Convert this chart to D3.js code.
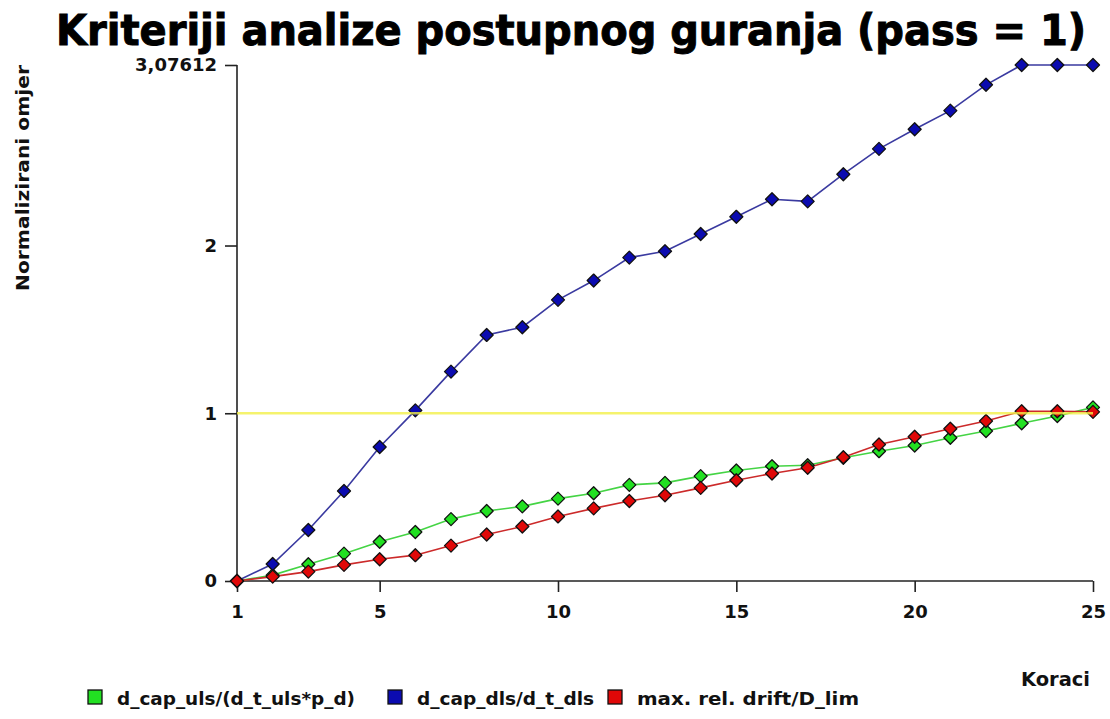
<!DOCTYPE html>
<html>
<head>
<meta charset="utf-8">
<script src="https://cdn.jsdelivr.net/npm/d3@7"></script>
<style>
  html, body { margin: 0; padding: 0; background: #fff; }
  svg { display: block; }
  text { font-family: "DejaVu Sans", Verdana, sans-serif; font-weight: bold; fill: #111; }
  .cond { font-family: "DejaVu Sans Condensed", "DejaVu Sans", sans-serif; font-stretch: condensed; }
</style>
</head>
<body>
<svg id="chart" width="1110" height="719"></svg>
<script>
// Pushover step numbers
const steps = d3.range(1, 26);

// Normalised ratio per step for each criterion
const capUls = [0, 0.035, 0.10, 0.163, 0.234, 0.292, 0.369, 0.417, 0.445, 0.491,
                0.523, 0.573, 0.585, 0.625, 0.659, 0.684, 0.69, 0.735, 0.774, 0.808,
                0.854, 0.894, 0.940, 0.984, 1.035];
const capDls = [0, 0.101, 0.304, 0.537, 0.799, 1.017, 1.248, 1.467, 1.513, 1.676,
                1.791, 1.928, 1.966, 2.069, 2.171, 2.276, 2.263, 2.425, 2.576, 2.693,
                2.804, 2.958, 3.07612, 3.07612, 3.07612];
const drift  = [0, 0.026, 0.056, 0.096, 0.13, 0.154, 0.211, 0.277, 0.325, 0.385,
                0.433, 0.477, 0.511, 0.555, 0.601, 0.641, 0.675, 0.738, 0.814, 0.860,
                0.908, 0.954, 1.012, 1.012, 1.008];

const seriesNames = ["d_cap_uls/(d_t_uls*p_d)", "d_cap_dls/d_t_dls", "max. rel. drift/D_lim"];
const xTicks = [1, 5, 10, 15, 20, 25];
const yTicks = [0, 1, 2, 3.07612];
const yMax = 3.07612;
const limit = 1;

const series = [
  { name: seriesNames[0], values: capUls, line: "#44d444", fill: "#22e022" },
  { name: seriesNames[1], values: capDls, line: "#3a3aa0", fill: "#0b0bb0" },
  { name: seriesNames[2], values: drift,  line: "#cc2a2a", fill: "#e00808" }
];

const svg = d3.select("#chart");

const x = d3.scaleLinear().domain([1, 25]).range([237, 1093]);
const y = d3.scaleLinear().domain([0, yMax]).range([581, 65]);

// Title
svg.append("text")
  .attr("class", "cond")
  .attr("x", 56).attr("y", 45)
  .attr("font-size", 42)
  .attr("textLength", 1030).attr("lengthAdjust", "spacingAndGlyphs")
  .style("fill", "#000")
  .style("stroke", "#000").style("stroke-width", 0.9)
  .text("Kriteriji analize postupnog guranja (pass = 1)");

// Y axis
const yAxis = d3.axisLeft(y)
  .tickValues(yTicks)
  .tickSize(12)
  .tickPadding(8)
  .tickFormat(d => d === yMax ? "3,07612" : d3.format("d")(d));
const gy = svg.append("g").attr("transform", "translate(237,0)").call(yAxis);
gy.select(".domain").attr("stroke", "#222").attr("stroke-width", 1.6).attr("d", `M0,${y(yMax)}V${y(0)}`);
gy.selectAll(".tick line").attr("stroke", "#222").attr("stroke-width", 1.6);
gy.selectAll(".tick text")
  .style("font-size", "18px")
  .style("font-family", "DejaVu Sans, sans-serif")
  .style("font-weight", "bold")
  .attr("fill", "#111");

// X axis
const xAxis = d3.axisBottom(x)
  .tickValues(xTicks)
  .tickSize(11)
  .tickPadding(13)
  .tickFormat(d3.format("d"));
const gx = svg.append("g").attr("transform", `translate(0,${y(0)})`).call(xAxis);
gx.select(".domain").attr("stroke", "#222").attr("stroke-width", 1.6).attr("d", `M${x(1)},0H${x(25)}`);
gx.selectAll(".tick line").attr("stroke", "#222").attr("stroke-width", 1.6);
gx.selectAll(".tick text")
  .style("font-size", "18px")
  .style("font-family", "DejaVu Sans, sans-serif")
  .style("font-weight", "bold")
  .attr("fill", "#111");

// Axis titles
svg.append("text")
  .attr("class", "cond")
  .attr("transform", "translate(29,178) rotate(-90)")
  .attr("text-anchor", "middle")
  .attr("font-size", 17)
  .attr("textLength", 226).attr("lengthAdjust", "spacingAndGlyphs")
  .text("Normalizirani omjer");

svg.append("text")
  .attr("class", "cond")
  .attr("x", 1021).attr("y", 686)
  .attr("font-size", 20)
  .attr("textLength", 69).attr("lengthAdjust", "spacingAndGlyphs")
  .text("Koraci");

// Lines and markers
const line = d3.line().x((d, i) => x(steps[i])).y(d => y(d));
const diamond = r => `M0,${-r}L${r},0L0,${r}L${-r},0Z`;

series.forEach(s => {
  svg.append("path")
    .datum(s.values)
    .attr("fill", "none")
    .attr("stroke", s.line)
    .attr("stroke-width", 1.6)
    .attr("d", line);
});
series.forEach(s => {
  svg.append("g").selectAll("path")
    .data(s.values)
    .join("path")
    .attr("transform", (d, i) => `translate(${x(steps[i])},${y(d)})`)
    .attr("d", diamond(6.5))
    .attr("fill", s.fill)
    .attr("stroke", "#111")
    .attr("stroke-width", 1.3)
    .attr("stroke-linejoin", "round");
});

// Limit line at ratio = 1
svg.append("line")
  .attr("x1", x(1)).attr("x2", x(25))
  .attr("y1", y(limit)).attr("y2", y(limit))
  .attr("stroke", "#f2f048")
  .attr("stroke-opacity", 0.8)
  .attr("stroke-width", 2.5);

// Legend
const legendX = [88, 388, 608];
const legendW = [238, 177, 222];
const lg = svg.append("g");
series.forEach((s, i) => {
  lg.append("rect")
    .attr("x", legendX[i]).attr("y", 690)
    .attr("width", 14).attr("height", 14)
    .attr("fill", s.fill)
    .attr("stroke", "#111").attr("stroke-width", 1.3);
  lg.append("text")
    .attr("class", "cond")
    .attr("x", legendX[i] + 29).attr("y", 705)
    .attr("font-size", 17)
    .attr("textLength", legendW[i]).attr("lengthAdjust", "spacingAndGlyphs")
    .text(s.name);
});
</script>
</body>
</html>
